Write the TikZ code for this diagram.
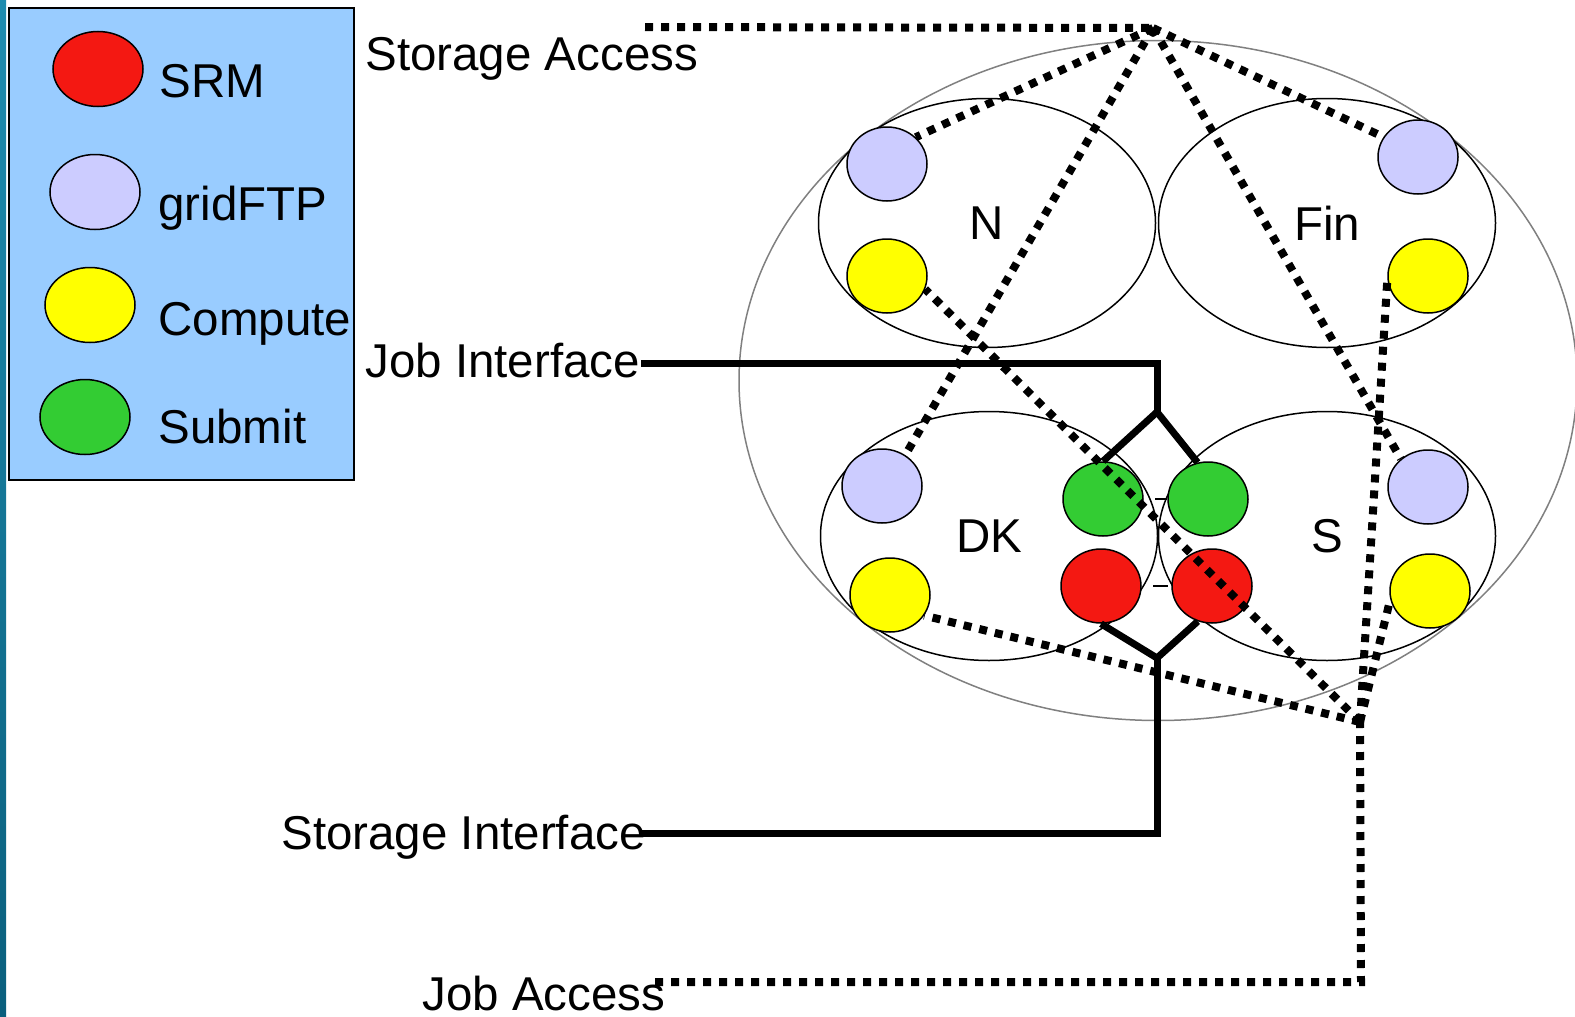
\documentclass[tikz,border=0pt]{standalone}
\usepackage{fontspec}
\setmainfont{Liberation Sans}
\usetikzlibrary{shapes.geometric}
\definecolor{srmred}{RGB}{244,24,18}
\definecolor{ftpblue}{RGB}{204,204,255}
\definecolor{cmpyel}{RGB}{255,255,0}
\definecolor{subgreen}{RGB}{51,204,51}
\definecolor{legbg}{RGB}{153,204,255}
\definecolor{tealA}{RGB}{30,140,175}
\definecolor{tealB}{RGB}{10,95,125}
\begin{document}
\begin{tikzpicture}[x=0.5pt,y=-0.5pt,
  dotnode/.style={ellipse,draw=black,line width=0.75pt,minimum width=40pt,minimum height=37pt,inner sep=0pt},
  legnode/.style={ellipse,draw=black,line width=0.75pt,minimum width=45pt,minimum height=37.5pt,inner sep=0pt},
  site/.style={ellipse,draw=black,line width=0.75pt,minimum width=168.5pt,minimum height=124.5pt,inner sep=0pt,font=\fontsize{23.75}{28}\selectfont},
  lbl/.style={font=\fontsize{23.75}{28}\selectfont,inner sep=0pt},
  dotline/.style={line width=4pt,dash pattern=on 4pt off 4pt},
  solidln/.style={line width=3.5pt},
  tick/.style={line width=0.6pt},
]
\useasboundingbox (0,0) rectangle (1575,1017);
\fill[white] (0,0) rectangle (1575,1017);
\shade[top color=tealA,bottom color=tealB] (0,0) rectangle (6,1017);

% legend
\node[draw=black,fill=legbg,line width=0.75pt,anchor=north west,minimum width=172.5pt,minimum height=236pt,inner sep=0pt] (legend) at (8,7) {};
\node[legnode,fill=srmred] (lsrm) at (98,69) {};
\node[legnode,fill=ftpblue] (lftp) at (95,192) {};
\node[legnode,fill=cmpyel] (lcmp) at (90,305) {};
\node[legnode,fill=subgreen] (lsub) at (85,417) {};
\node[lbl,anchor=base west] (tsrm) at (159,97) {SRM};
\node[lbl,anchor=base west] (tftp) at (158,220) {gridFTP};
\node[lbl,anchor=base west] (tcmp) at (158,335) {Compute};
\node[lbl,anchor=base west] (tsub) at (158,443) {Submit};

% grid ellipse and sites
\node[ellipse,draw=gray,line width=0.75pt,minimum width=419pt,minimum height=340pt,inner sep=0pt] (grid) at (1158,380.5) {};
\node[site] (N) at (987,223) {N};
\node[site] (Fin) at (1327,223) {Fin};
\node[site] (DK) at (989,536) {DK};
\node[site] (S) at (1327,536) {S};

% resources
\node[dotnode,fill=ftpblue] (ngf) at (887,164) {};
\node[dotnode,fill=cmpyel] (nc) at (887,276) {};
\node[dotnode,fill=ftpblue] (fgf) at (1418,157) {};
\node[dotnode,fill=cmpyel] (fc) at (1428,276) {};
\node[dotnode,fill=ftpblue] (dgf) at (882,486) {};
\node[dotnode,fill=cmpyel] (dc) at (890,595) {};
\node[dotnode,fill=subgreen] (g1) at (1103,499) {};
\node[dotnode,fill=subgreen] (g2) at (1208,499) {};
\node[dotnode,fill=srmred] (r1) at (1101,586) {};
\node[dotnode,fill=srmred] (r2) at (1212,586) {};
\node[dotnode,fill=ftpblue] (sgf) at (1428,487) {};
\node[dotnode,fill=cmpyel] (sc) at (1430,591) {};

% tiny marks
\coordinate (m1a) at (1155,499); \coordinate (m1b) at (1167,499);
\coordinate (m2a) at (1153,586); \coordinate (m2b) at (1168,586);
\draw[tick] (m1a) -- (m1b);
\draw[tick] (m2a) -- (m2b);

% texts
\node[lbl,anchor=base west] (sa) at (365,70) {Storage Access};
\node[lbl,anchor=base west] (jif) at (365,377) {Job Interface};
\node[lbl,anchor=base west] (sif) at (281,849) {Storage Interface};
\node[lbl,anchor=base west] (jac) at (422,1010) {Job Access};

% coordinates
\coordinate (saL) at (645,27);
\coordinate (apex) at (1153,28);
\coordinate (jaL) at (655,982);
\coordinate (jaC) at (1361,982);
\coordinate (jaT) at (1360,722);
\coordinate (jiL) at (641,363);
\coordinate (jt) at (1157,412);
\coordinate (siL) at (641,833);
\coordinate (jb) at (1157,658);

% storage access
\draw[dotline] (saL) -- (apex);
\draw[dotline] (apex) -- (ngf.43);
\draw[dotline] (apex) -- (dgf.53);
\draw[dotline] (apex) -- (sgf.134);
\draw[dotline] (apex) -- (fgf.150);

% job access
\draw[dotline] (jaL) -- (jaC) -- (jaT);
\draw[dotline] (jaT) -- (fc.184);
\draw[dotline] (jaT) -- (sc.192);
\draw[dotline] (jaT) -- (nc.341);
\draw[dotline] (jaT) -- (dc.329);

% interfaces
\draw[solidln] (jiL) -| (jt);
\draw[solidln] (jt) -- (g1.north);
\draw[solidln] (jt) -- (g2.106);
\draw[solidln] (siL) -| (jb);
\draw[solidln] (jb) -- (r1.south);
\draw[solidln] (jb) -- (r2.248);
\end{tikzpicture}
\end{document}
